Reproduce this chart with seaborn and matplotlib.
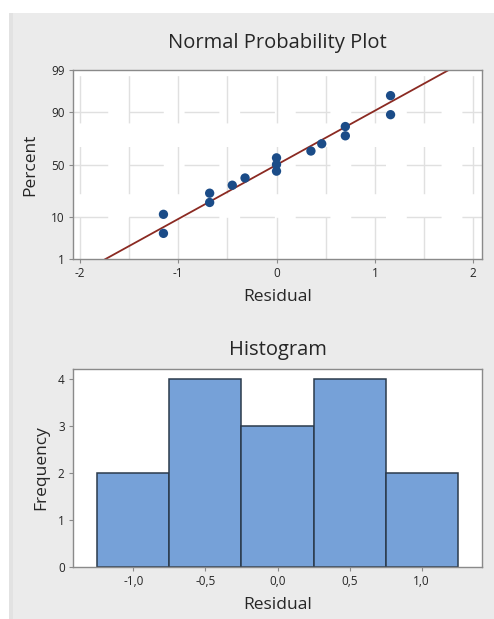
import numpy as np
import pandas as pd
import matplotlib
matplotlib.use("Agg")
import matplotlib.pyplot as plt
import seaborn as sns
from matplotlib.ticker import FuncFormatter, FixedLocator
from matplotlib.patches import Rectangle
from statistics import NormalDist

# residuals, sorted
residuals = [-1.15, -1.15, -0.68, -0.68, -0.45, -0.32, 0.0, 0.0, 0.0,
             0.35, 0.46, 0.70, 0.70, 1.16, 1.16]
# plotted percent of each point (median ranks)
percents = [4.5, 11.0, 17.5, 24.0, 30.5, 37.0, 43.5, 50.0, 56.5,
            63.0, 69.5, 76.0, 82.5, 89.0, 95.5]
pct_ticks = [1, 10, 50, 90, 99]
hist_edges = [-1.25, -0.75, -0.25, 0.25, 0.75, 1.25]
hist_ticks = [-1.0, -0.5, 0.0, 0.5, 1.0]

nd = NormalDist()
_ppf = np.vectorize(lambda v: nd.inv_cdf(v / 100.0), otypes=[float])
_cdf = np.vectorize(lambda v: nd.cdf(v) * 100.0, otypes=[float])

def fwd(p):
    p = np.clip(np.asarray(p, dtype=float), 1e-6, 100 - 1e-6)
    return _ppf(p)

def inv(z):
    return _cdf(np.asarray(z, dtype=float))

sns.set_style("white")
plt.rcParams['font.family'] = ['Open Sans', 'DejaVu Sans']

fig = plt.figure(figsize=(4.94, 6.19), dpi=100)
fig.patch.set_facecolor("#ebebeb")
# white margin on top and left, as in the screenshot
fig.patches.append(Rectangle((0, 1 - 13 / 619), 1, 13 / 619, transform=fig.transFigure,
                             facecolor="white", edgecolor="none", zorder=-10))
fig.patches.append(Rectangle((0, 0), 9 / 494, 1, transform=fig.transFigure,
                             facecolor="white", edgecolor="none", zorder=-10))
fig.patches.append(Rectangle((9 / 494, 0), 4 / 494, 1 - 13 / 619, transform=fig.transFigure,
                             facecolor="#e2e2e2", edgecolor="none", zorder=-9))

txt = "#262626"
spine = "#8a8a8a"

# ---- normal probability plot
ax1 = fig.add_axes([73 / 494, 1 - 259 / 619, 409 / 494, 189 / 619])
ax1.set_yscale("function", functions=(fwd, inv))

mu = np.mean(residuals)
sd = np.std(residuals, ddof=1)
line_p = np.array([0.5, 1, 50, 99, 99.5])
line_x = mu + sd * fwd(line_p)
for xv in np.arange(-2, 2.01, 0.5):
    ax1.axvline(xv, color="#e0e0e0", lw=1, ls=(4, (34, 17)), zorder=0)
for yv in [10, 50, 90]:
    ax1.axhline(yv, color="#e0e0e0", lw=1, ls=(0, (25, 15)), zorder=0)

sns.lineplot(x=line_x, y=line_p, ax=ax1, color="#8b2a22", lw=1.3, zorder=2)
sns.scatterplot(x=residuals, y=percents, ax=ax1, color="#1b4c88", s=45,
                edgecolor="none", zorder=3)
ax1.set_ylim(1, 99)
ax1.set_xlim(-2.07, 2.09)
ax1.yaxis.set_major_locator(FixedLocator(pct_ticks))
ax1.yaxis.set_minor_locator(FixedLocator([]))
ax1.yaxis.set_major_formatter(FuncFormatter(lambda v, p: f"{v:g}"))
ax1.set_xticks([-2, -1, 0, 1, 2])
ax1.set_xticklabels(["-2", "-1", "0", "1", "2"])
ax1.set_title("Normal Probability Plot", fontsize=14.5, color=txt, pad=16)
ax1.set_xlabel("Residual", fontsize=12.5, color=txt, labelpad=6)
ax1.set_ylabel("Percent", fontsize=12.5, color=txt, labelpad=9)

# ---- histogram
ax2 = fig.add_axes([73 / 494, 1 - 567 / 619, 409 / 494, 198 / 619])
sns.histplot(x=residuals, bins=hist_edges, ax=ax2, color="#76a1d8",
             edgecolor="#2b3a4c", linewidth=1.1, alpha=1)
ax2.set_xlim(-1.42, 1.42)
ax2.set_ylim(0, 4.22)
ax2.set_yticks([0, 1, 2, 3, 4])
ax2.set_xticks(hist_ticks)
ax2.xaxis.set_major_formatter(FuncFormatter(lambda v, p: f"{v:.1f}".replace(".", ",")))
ax2.set_title("Histogram", fontsize=14.5, color=txt, pad=10)
ax2.set_xlabel("Residual", fontsize=12.5, color=txt, labelpad=6)
ax2.set_ylabel("Frequency", fontsize=12.5, color=txt, labelpad=6)

for ax in (ax1, ax2):
    ax.set_facecolor("white")
    for s in ax.spines.values():
        s.set_color(spine)
        s.set_linewidth(1)
    ax.tick_params(axis="both", which="major", direction="out", length=3,
                   width=0.8, color=spine, labelsize=8.5, labelcolor=txt, pad=3)
    ax.tick_params(left=True, bottom=True)

fig.savefig("out.png", dpi=100, facecolor=fig.get_facecolor())
